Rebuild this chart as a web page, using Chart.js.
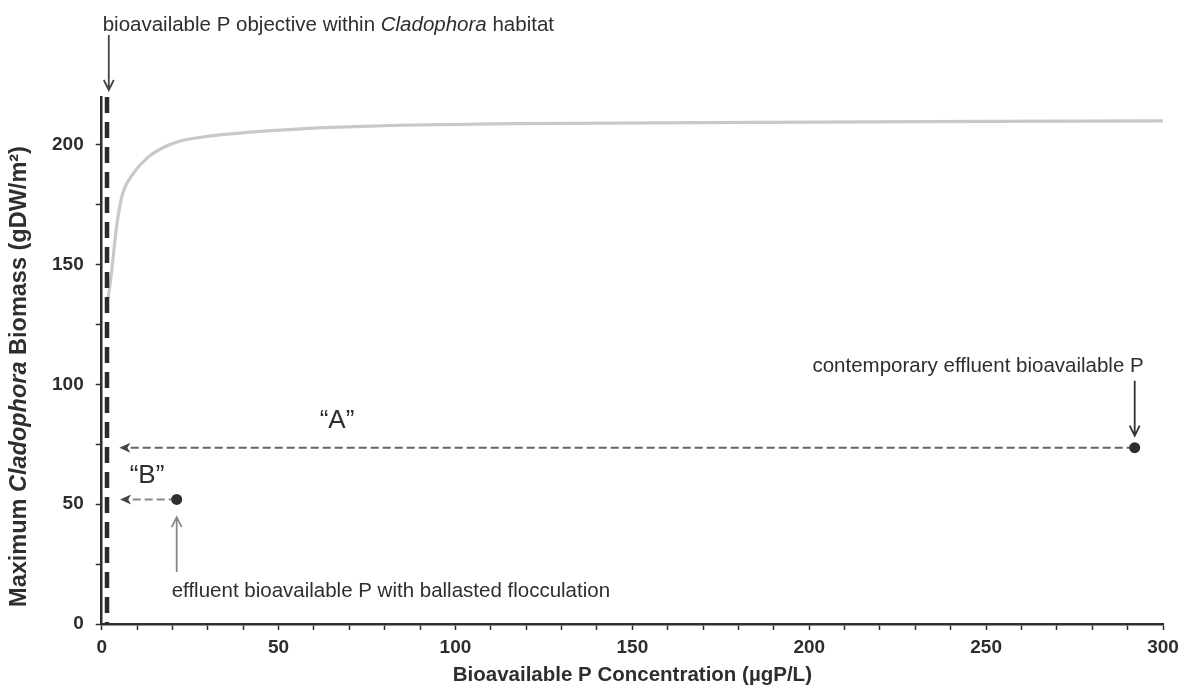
<!DOCTYPE html>
<html>
<head>
<meta charset="utf-8">
<script src="https://cdn.jsdelivr.net/npm/chart.js@4.4.1/dist/chart.umd.min.js"></script>
<style>
  html, body { margin: 0; padding: 0; background: #ffffff; }
  #wrap { width: 1186px; height: 689px; position: relative; }
</style>
</head>
<body>
<div id="wrap"><canvas id="c" width="1186" height="689"></canvas></div>
<script>
// Response curve: maximum Cladophora biomass vs bioavailable P
const curveP = [1.8, 2.8, 3.8, 4.6, 6.0, 8.9, 12.8, 17.3, 22.2, 31.5, 41.1, 50.4, 65, 84, 120, 169, 250, 300];
const curveBiomass = [136, 147, 161, 170, 180, 188, 194.5, 198.8, 201.6, 203.9, 205.2, 206.2, 207.3, 208.2, 208.9, 209.3, 209.8, 210];

// Habitat objective (vertical reference line)
const objectiveP = 1.5;
const objectiveRange = [0, 220];

// Effluent scenarios: contemporary ("A") and ballasted flocculation ("B")
const scenarioP = [292, 21.2];
const scenarioBiomass = [73.6, 52];
const scenarioArrowEndP = [5, 5.2];

// Axis ticks
const xMajorTicks = [0, 50, 100, 150, 200, 250, 300];
const yMajorTicks = [0, 50, 100, 150, 200];

const FONT = '"Liberation Sans", Arial, Helvetica, sans-serif';
const INK = '#2e2e2e';

const curveData = curveP.map((p, i) => ({ x: p, y: curveBiomass[i] }));
const objectiveData = [{ x: objectiveP, y: objectiveRange[1] }, { x: objectiveP, y: objectiveRange[0] }];
const lineA = [{ x: scenarioP[0], y: scenarioBiomass[0] }, { x: scenarioArrowEndP[0] + 2, y: scenarioBiomass[0] }];
const lineB = [{ x: scenarioP[1], y: scenarioBiomass[1] }, { x: scenarioArrowEndP[1] + 2, y: scenarioBiomass[1] }];
const scenarioPoints = scenarioP.map((p, i) => ({ x: p, y: scenarioBiomass[i] }));

function drawSegments(ctx, segs, x, y, align) {
  let total = 0;
  segs.forEach(s => { ctx.font = s.font; total += ctx.measureText(s.text).width; });
  let cx = align === 'center' ? x - total / 2 : align === 'right' ? x - total : x;
  ctx.textAlign = 'left';
  segs.forEach(s => {
    ctx.font = s.font;
    ctx.fillText(s.text, cx, y);
    cx += ctx.measureText(s.text).width;
  });
}

function vArrow(ctx, x, yFrom, yTo, color) {
  const dir = yTo > yFrom ? 1 : -1;
  ctx.save();
  ctx.strokeStyle = color;
  ctx.lineWidth = 1.8;
  ctx.beginPath();
  ctx.moveTo(x, yFrom);
  ctx.lineTo(x, yTo);
  ctx.moveTo(x - 5, yTo - dir * 10);
  ctx.lineTo(x, yTo);
  ctx.lineTo(x + 5, yTo - dir * 10);
  ctx.stroke();
  ctx.restore();
}

function leftHead(ctx, x, y, color) {
  ctx.save();
  ctx.fillStyle = color;
  ctx.beginPath();
  ctx.moveTo(x, y);
  ctx.lineTo(x + 11, y - 5);
  ctx.lineTo(x + 8, y);
  ctx.lineTo(x + 11, y + 5);
  ctx.closePath();
  ctx.fill();
  ctx.restore();
}

const notes = {
  id: 'notes',
  afterDatasetsDraw(chart) {
    const ctx = chart.ctx;
    const sx = chart.scales.x, sy = chart.scales.y;
    const px = v => sx.getPixelForValue(v);
    const py = v => sy.getPixelForValue(v);
    ctx.save();
    ctx.fillStyle = INK;
    ctx.textBaseline = 'alphabetic';

    // arrowheads of the horizontal dashed leaders
    leftHead(ctx, px(scenarioArrowEndP[0]), py(scenarioBiomass[0]), '#444');
    leftHead(ctx, px(scenarioArrowEndP[1]), py(scenarioBiomass[1]), '#444');

    // objective label + arrow
    drawSegments(ctx, [
      { text: 'bioavailable P objective within ', font: `20.5px ${FONT}` },
      { text: 'Cladophora', font: `italic 20.5px ${FONT}` },
      { text: ' habitat', font: `20.5px ${FONT}` }
    ], px(0) + 1, py(220) - 66, 'left');
    vArrow(ctx, px(2), py(220) - 62, py(220) - 7, '#444');

    // contemporary effluent label + arrow
    ctx.font = `20.5px ${FONT}`;
    ctx.textAlign = 'right';
    ctx.fillText('contemporary effluent bioavailable P', px(scenarioP[0]) + 9, py(scenarioBiomass[0]) - 76);
    vArrow(ctx, px(scenarioP[0]), py(101.5), py(78.6), '#333');

    // ballasted flocculation label + arrow
    ctx.textAlign = 'left';
    ctx.fillText('effluent bioavailable P with ballasted flocculation', px(scenarioP[1]) - 5, py(scenarioBiomass[1]) + 98);
    vArrow(ctx, px(scenarioP[1]), py(21.7), py(44.6), '#888');

    // leader names
    ctx.font = `26px ${FONT}`;
    ctx.textAlign = 'center';
    ctx.fillText('\u201CA\u201D', px(66.5), py(81.7));
    ctx.fillText('\u201CB\u201D', px(12.8), py(58.7));

    // y-axis title
    ctx.save();
    ctx.translate(20, (chart.chartArea.top + chart.chartArea.bottom) / 2 + 16);
    ctx.rotate(-Math.PI / 2);
    ctx.textBaseline = 'middle';
    drawSegments(ctx, [
      { text: 'Maximum ', font: `bold 23.5px ${FONT}` },
      { text: 'Cladophora', font: `italic bold 23.5px ${FONT}` },
      { text: ' Biomass (gDW/m\u00B2)', font: `bold 23.5px ${FONT}` }
    ], 0, 0, 'center');
    ctx.restore();

    ctx.restore();
  }
};

new Chart(document.getElementById('c'), {
  type: 'scatter',
  data: {
    datasets: [
      { data: curveData, showLine: true, pointRadius: 0, borderColor: '#c8c8c8', borderWidth: 3.2,
        cubicInterpolationMode: 'monotone', order: 5 },
      { data: objectiveData, showLine: true, pointRadius: 0, borderColor: '#2a2a2a', borderWidth: 4.5,
        borderDash: [16, 9], borderCapStyle: 'butt', order: 4 },
      { data: lineA, showLine: true, pointRadius: 0, borderColor: '#666666', borderWidth: 2,
        borderDash: [8, 4], order: 3 },
      { data: lineB, showLine: true, pointRadius: 0, borderColor: '#888888', borderWidth: 2,
        borderDash: [8, 4], order: 3 },
      { data: scenarioPoints, showLine: false, pointRadius: 5.5, pointBackgroundColor: '#2f2f2f',
        pointBorderWidth: 0, order: 1 }
    ]
  },
  options: {
    responsive: false,
    animation: false,
    devicePixelRatio: 1,
    layout: { padding: { left: 0, right: 23, top: 97, bottom: 0 } },
    plugins: { legend: { display: false }, tooltip: { enabled: false } },
    scales: {
      x: {
        type: 'linear', min: 0, max: 300,
        afterFit(scale) { scale.height = 65; },
        border: { color: INK, width: 2.5 },
        grid: { drawOnChartArea: false, drawTicks: true, tickLength: 6, tickColor: INK, tickWidth: 1.5 },
        ticks: {
          stepSize: 10, autoSkip: false, maxRotation: 0, padding: 6, color: INK,
          font: { family: FONT, size: 19, weight: 'bold' },
          callback: v => (xMajorTicks.includes(v) ? String(v) : '')
        },
        title: {
          display: true, text: 'Bioavailable P Concentration (\u00B5gP/L)', color: INK,
          font: { family: FONT, size: 20.5, weight: 'bold' }, padding: { top: 0, bottom: 1 }
        }
      },
      y: {
        type: 'linear', min: 0, max: 220,
        afterFit(scale) { scale.width = 101.7; },
        border: { color: INK, width: 2.5 },
        grid: { drawOnChartArea: false, drawTicks: true, tickLength: 6, tickColor: INK, tickWidth: 1.5 },
        ticks: {
          stepSize: 25, includeBounds: false, autoSkip: false, padding: 12, color: INK,
          font: { family: FONT, size: 19, weight: 'bold' },
          callback: v => (yMajorTicks.includes(v) ? String(v) : '')
        }
      }
    }
  },
  plugins: [notes]
});
</script>
</body>
</html>
